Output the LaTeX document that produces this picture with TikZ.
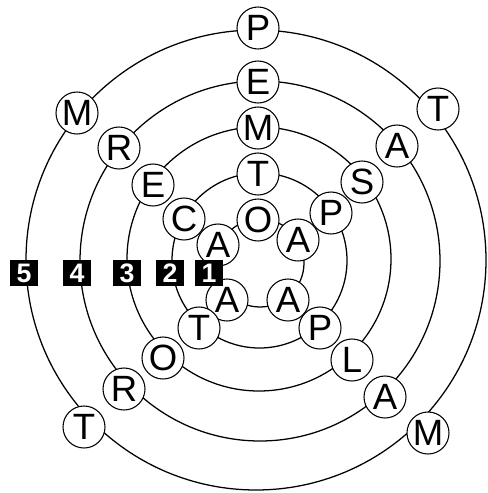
\documentclass[tikz,border=0pt]{standalone}
\usepackage{fontspec}
\setmainfont{Liberation Sans}

\begin{document}
\begin{tikzpicture}[x=0.025cm, y=-0.025cm,
    ring/.style={line width=0.9pt},
    letter/.style={circle, draw, line width=0.75pt, fill=white, minimum size=1.05cm,
        inner sep=0pt, font=\fontsize{26}{26}\selectfont},
    numbox/.style={fill=black, text=white, minimum width=0.7cm, minimum height=0.64cm,
        inner sep=0pt, font=\bfseries\fontsize{19}{19}\selectfont}]

    \useasboundingbox (0,0) rectangle (487,493);

    % the five rings
    \draw[ring] (260,263) circle (44);
    \draw[ring] (259.5,260.5) circle (87.5);
    \draw[ring] (259,259) circle (132);
    \draw[ring] (260,261) circle (180);
    \draw[ring] (256,260) circle (230);

    % ring 1
    \node (o1) at (258,220) [letter] {O};
    \node (a1) at (298,240) [letter] {A};
    \node (a1b) at (288,300) [letter] {A};
    \node (a1c) at (227,300) [letter] {A};
    \node (a1d) at (218,245) [letter] {A};

    % ring 2
    \node (t2) at (258,174) [letter] {T};
    \node (p2) at (331,213) [letter] {P};
    \node (p2b) at (320,328) [letter] {P};
    \node (t2b) at (199,328) [letter] {T};
    \node (c2) at (184,219) [letter] {C};

    % ring 3
    \node (m3) at (258,128) [letter] {M};
    \node (s3) at (362,182) [letter] {S};
    \node (l3) at (352,360) [letter] {L};
    \node (o3) at (163,358) [letter] {O};
    \node (e3) at (153,185) [letter] {E};

    % ring 4
    \node (e4) at (258,82) [letter] {E};
    \node (a4) at (397,146) [letter] {A};
    \node (a4b) at (385,397) [letter] {A};
    \node (r4) at (124,389) [letter] {R};
    \node (r4b) at (119,148) [letter] {R};

    % ring 5
    \node (p5) at (258,28) [letter] {P};
    \node (t5) at (438,109) [letter] {T};
    \node (m5) at (428,433) [letter] {M};
    \node (t5b) at (84,427) [letter] {T};
    \node (m5b) at (77,113) [letter] {M};

    % ring numbers
    \node (n5) at (24,273) [numbox] {5};
    \node (n4) at (77,273) [numbox] {4};
    \node (n3) at (127,273) [numbox] {3};
    \node (n2) at (170,273) [numbox] {2};
    \node (n1) at (209,273) [numbox] {1};

\end{tikzpicture}
\end{document}
